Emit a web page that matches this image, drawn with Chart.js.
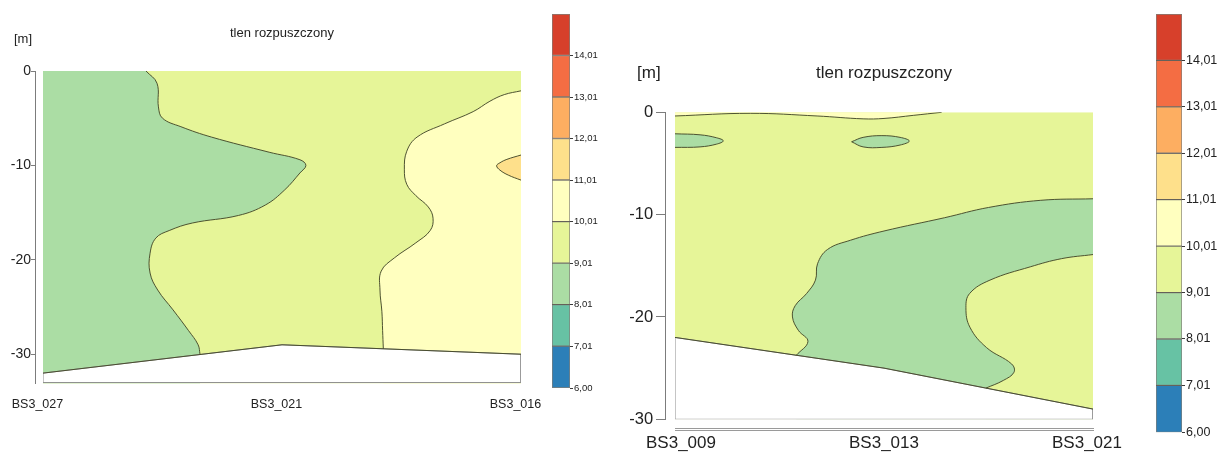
<!DOCTYPE html>
<html lang="pl">
<head>
<meta charset="utf-8">
<title>tlen rozpuszczony</title>
<script src="https://cdn.jsdelivr.net/npm/chart.js@4.4.1/dist/chart.umd.min.js"></script>
<style>
  html, body { margin: 0; padding: 0; background: #fff; }
  body { position: relative; width: 1224px; height: 454px; overflow: hidden; color: #222; }
  .box { position: absolute; top: 0; }
  .unit { position: absolute; white-space: nowrap; }
</style>
</head>
<body>
<div class="box" style="left:0"><canvas id="leftPlot" width="564" height="454"></canvas></div>
<div class="box" style="left:552px"><canvas id="leftBar" width="64" height="400"></canvas></div>
<div class="box" style="left:620px"><canvas id="rightPlot" width="526" height="454"></canvas></div>
<div class="box" style="left:1156px"><canvas id="rightBar" width="76" height="454"></canvas></div>
<div class="unit" style="left:14px;top:31px;font:13px/16px 'Liberation Sans',Arial,sans-serif">[m]</div>
<div class="unit" style="left:637px;top:63px;font:17px/20px 'Liberation Sans',Arial,sans-serif">[m]</div>
<script>
// klasy tlenu rozpuszczonego (mg/l) i ich kolory
const classBreaks = [6.00, 7.01, 8.01, 9.01, 10.01, 11.01, 12.01, 13.01, 14.01, 15.01];
const classColors = ['#2c7fb8', '#67c2a4', '#abdda4', '#e6f598', '#ffffbf', '#fee08b', '#fdae61', '#f46d43', '#d7402b'];

// przekrój lewy: BS3_027 - BS3_021 - BS3_016   [stacja, głębokość m]
const stationsLeft = ['BS3_027', 'BS3_021', 'BS3_016'];
const depthTicksLeft = [0, -10, -20, -30];
const seabedLeft = [[0, -32], [1, -29], [2, -30]];
const iso9Left = [[0.431, 0], [0.477, -1.3], [0.483, -3.8], [0.5, -5.0], [0.577, -5.9], [0.705, -7.0],
  [0.946, -8.6], [1.075, -9.4], [1.1, -10.0], [1.075, -10.8], [1.011, -12.6], [0.93, -14.2],
  [0.818, -15.3], [0.625, -16.1], [0.528, -16.9], [0.472, -17.7], [0.448, -19.3], [0.448, -21.4],
  [0.48, -23.2], [0.544, -25.3], [0.609, -27.5], [0.649, -29.0], [0.657, -30.0]];
const iso10Left = [[2.0, -2.1], [1.93, -2.5], [1.87, -3.2], [1.8, -4.3], [1.68, -5.6], [1.565, -7.0],
  [1.522, -8.5], [1.512, -10.4], [1.522, -12.0], [1.56, -13.2], [1.612, -14.4], [1.632, -15.6],
  [1.62, -16.9], [1.56, -18.2], [1.47, -19.8], [1.415, -21.2], [1.41, -23.2], [1.418, -25.5],
  [1.421, -27.5], [1.424, -29.42]];
const iso11Left = [[2.0, -8.9], [1.941, -9.36], [1.912, -9.72], [1.898, -10.04], [1.912, -10.5],
  [1.947, -11.03], [2.0, -11.56]];

// przekrój prawy: BS3_009 - BS3_013 - BS3_021
const stationsRight = ['BS3_009', 'BS3_013', 'BS3_021'];
const depthTicksRight = [0, -10, -20, -30];
const seabedRight = [[0, -22], [1, -25], [2, -29]];
const iso10Right = [[0, -0.36], [0.36, -0.1], [0.68, -0.36], [0.9, -0.64], [1.0, -0.6], [1.14, -0.3], [1.276, 0]];
const lensRightA = [[0, -2.1], [0.12, -2.2], [0.199, -2.49], [0.231, -2.79], [0.199, -3.11], [0.12, -3.38], [0, -3.43]];
const lensRightB = [[0.845, -2.88], [0.9, -2.45], [0.99, -2.28], [1.077, -2.45], [1.121, -2.81], [1.077, -3.2],
  [0.99, -3.43], [0.9, -3.38], [0.845, -2.88]];
const iso9RightUpper = [[2, -8.45], [1.75, -8.6], [1.5, -9.3], [1.29, -10.3], [1.0, -11.6], [0.84, -12.5],
  [0.73, -13.4], [0.682, -14.8], [0.672, -16.4], [0.63, -17.7], [0.575, -18.9], [0.562, -20.0],
  [0.59, -21.3], [0.636, -22.4], [0.58, -23.75]];
const iso9RightLower = [[2, -13.9], [1.85, -14.3], [1.7, -15.1], [1.507, -16.4], [1.41, -17.7], [1.392, -19.1],
  [1.411, -21.0], [1.491, -23.0], [1.611, -24.6], [1.622, -25.4], [1.571, -26.2], [1.488, -26.95]];

const LINE = 'rgba(70, 74, 42, 0.95)';
const OUTLINE = '#8c8c8c';
const AXIS = '#7c7c7c';
const TEXT = '#222222';
const SANS = "'Liberation Sans', Arial, sans-serif";

const P = ([x, y]) => ({x, y});
// curve: ends doubled so the spline joins straight edges cleanly; sharp: straight polyline
const curve = (pts) => [pts[0], ...pts, pts[pts.length - 1]].map(P);
const sharp = (pts) => pts.flatMap((p) => [p, p]).map(P);
const endX = (pts) => pts[pts.length - 1][0];

const fillArea = (points, color, order) => ({
  data: points, showLine: true, fill: 'shape', tension: 0.4,
  backgroundColor: color, borderColor: 'rgba(0,0,0,0)', borderWidth: 0,
  pointRadius: 0, order
});
const isoLine = (pts, tension = 0.4) => ({
  data: pts.map(P), showLine: true, fill: false, tension,
  borderColor: LINE, borderWidth: 1, pointRadius: 0, order: 1
});
const seabedArea = (pts, bottom, order) => ({
  ...fillArea(sharp([...pts, [2, bottom], [0, bottom], pts[0]]), '#ffffff', order),
  borderColor: OUTLINE, borderWidth: 1, tension: 0
});
const setTicks = (values) => (scale) => { scale.ticks = values.map((v) => ({value: v})); };

function sectionChart(id, cfg) {
  return new Chart(document.getElementById(id), {
    type: 'scatter',
    data: { datasets: cfg.datasets },
    options: {
      responsive: false,
      animation: false,
      events: [],
      indexAxis: 'y',
      layout: { padding: cfg.padding },
      plugins: {
        legend: { display: false },
        tooltip: { enabled: false },
        title: {
          display: true, text: 'tlen rozpuszczony', color: TEXT,
          font: cfg.titleFont, padding: cfg.titlePadding
        }
      },
      scales: cfg.scales
    }
  });
}

// ---- lewy przekrój
const LEFT_MIN = -33.1;
const leftDatasets = [
  fillArea(sharp([[0, 0], [0, LEFT_MIN], [2, LEFT_MIN], [2, 0]]), classColors[3], 10),
  fillArea([...curve(iso9Left), ...sharp([[endX(iso9Left), LEFT_MIN], [0, LEFT_MIN], [0, 0]])], classColors[2], 9),
  fillArea([...curve(iso10Left), ...sharp([[endX(iso10Left), LEFT_MIN], [2, LEFT_MIN]])], classColors[4], 8),
  fillArea(curve(iso11Left), classColors[5], 7),
  seabedArea(seabedLeft, -33, 3),
  isoLine(iso9Left), isoLine(iso10Left), isoLine(iso11Left), isoLine(seabedLeft, 0)
];

sectionChart('leftPlot', {
  datasets: leftDatasets,
  padding: { left: 43, right: 43, top: 0, bottom: 70.5 },
  titleFont: { family: SANS, size: 13, weight: 'normal' },
  titlePadding: { top: 25.5, bottom: 29.9 },
  scales: {
    x: {
      type: 'linear', min: 0, max: 2, position: { y: LEFT_MIN },
      border: { display: false }, grid: { display: false, drawTicks: false },
      afterBuildTicks: setTicks([0, 1, 2]),
      ticks: {
        callback: (v) => stationsLeft[v], labelOffset: -5.5, padding: 13.5,
        autoSkip: false, maxRotation: 0, color: TEXT, font: { family: SANS, size: 12.5 }
      }
    },
    y: {
      type: 'linear', min: LEFT_MIN, max: 0, position: { x: -0.0293 },
      border: { color: AXIS, width: 1 },
      grid: { drawOnChartArea: false, drawTicks: true, tickLength: 4, color: AXIS },
      afterBuildTicks: setTicks(depthTicksLeft),
      ticks: { display: false }
    },
    yl: {
      type: 'linear', axis: 'y', min: LEFT_MIN, max: 0, position: { x: -0.05 },
      border: { display: false }, grid: { display: false, drawTicks: false },
      afterBuildTicks: setTicks(depthTicksLeft),
      ticks: { callback: (v) => String(v), padding: 0, color: TEXT, font: { family: SANS, size: 14 } }
    }
  }
});

// ---- prawy przekrój
const RIGHT_MIN = -30;
const rightDatasets = [
  fillArea(sharp([[0, 0], [0, RIGHT_MIN], [2, RIGHT_MIN], [2, 0]]), classColors[3], 10),
  fillArea([...curve(iso10Right), ...sharp([[0, 0]])], classColors[4], 9),
  fillArea(curve(lensRightA), classColors[2], 9),
  fillArea(curve(lensRightB), classColors[2], 9),
  fillArea([...curve(iso9RightUpper), ...sharp([[endX(iso9RightUpper), RIGHT_MIN], [2, RIGHT_MIN]])], classColors[2], 8),
  fillArea([...curve(iso9RightLower), ...sharp([[endX(iso9RightLower), RIGHT_MIN], [2, RIGHT_MIN]])], classColors[3], 7),
  seabedArea(seabedRight, RIGHT_MIN, 3),
  isoLine(iso10Right), isoLine(lensRightA), isoLine(lensRightB),
  isoLine(iso9RightUpper), isoLine(iso9RightLower), isoLine(seabedRight, 0)
];

sectionChart('rightPlot', {
  datasets: rightDatasets,
  padding: { left: 55, right: 53, top: 0, bottom: 34.7 },
  titleFont: { family: SANS, size: 17, weight: 'normal' },
  titlePadding: { top: 62.8, bottom: 29.1 },
  scales: {
    x: {
      type: 'linear', min: 0, max: 2, position: { y: -30.88 },
      border: { color: '#9a9a9a', width: 1 }, grid: { display: false, drawTicks: false },
      ticks: { display: false }
    },
    xl: {
      type: 'linear', axis: 'x', min: -0.0296, max: 2.0296, position: { y: -31.12 },
      border: { color: '#9a9a9a', width: 1 }, grid: { display: false, drawTicks: false },
      afterBuildTicks: setTicks([0, 1, 2]),
      ticks: {
        callback: (v) => stationsRight[v], padding: 2, autoSkip: false, maxRotation: 0,
        color: TEXT, font: { family: SANS, size: 17 }
      }
    },
    y: {
      type: 'linear', min: RIGHT_MIN, max: 0, position: { x: -0.0445 },
      border: { color: AXIS, width: 1 },
      grid: { drawOnChartArea: false, drawTicks: true, tickLength: 9, color: AXIS },
      afterBuildTicks: setTicks(depthTicksRight),
      ticks: { display: false }
    },
    yl: {
      type: 'linear', axis: 'y', min: RIGHT_MIN, max: 0, position: { x: -0.105 },
      border: { display: false }, grid: { display: false, drawTicks: false },
      afterBuildTicks: setTicks(depthTicksRight),
      ticks: { callback: (v) => String(v), padding: 0, color: TEXT, font: { family: SANS, size: 16.5 } }
    }
  }
});

// ---- skale barw
function colorBar(id, cfg) {
  return new Chart(document.getElementById(id), {
    type: 'bar',
    data: {
      labels: [''],
      datasets: classColors.map((c, i) => ({
        data: [[classBreaks[i], classBreaks[i + 1]]],
        backgroundColor: c, borderColor: 'rgba(45, 40, 30, 0.6)', borderWidth: 1,
        borderSkipped: false, barPercentage: 1, categoryPercentage: 1, grouped: false
      }))
    },
    options: {
      responsive: false,
      animation: false,
      events: [],
      layout: { padding: cfg.padding },
      plugins: { legend: { display: false }, tooltip: { enabled: false } },
      scales: {
        x: { display: false },
        y: {
          position: 'right', min: classBreaks[0], max: classBreaks[classBreaks.length - 1],
          afterBuildTicks: setTicks(classBreaks.slice(0, -1)),
          afterFit: (scale) => { scale.width = cfg.axisWidth; },
          border: { display: false },
          grid: { drawOnChartArea: false, drawTicks: true, tickLength: 3, color: '#3a3a3a' },
          ticks: {
            callback: (v) => v.toFixed(2).replace('.', ','), padding: 1,
            color: TEXT, font: cfg.font
          }
        }
      }
    }
  });
}

colorBar('leftBar', { padding: { top: 14, bottom: 12, left: 0, right: 0 }, axisWidth: 46,
  font: { family: SANS, size: 9.5 } });
colorBar('rightBar', { padding: { top: 14, bottom: 21.7, left: 0, right: 0 }, axisWidth: 50,
  font: { family: SANS, size: 12.5 } });
</script>
</body>
</html>
